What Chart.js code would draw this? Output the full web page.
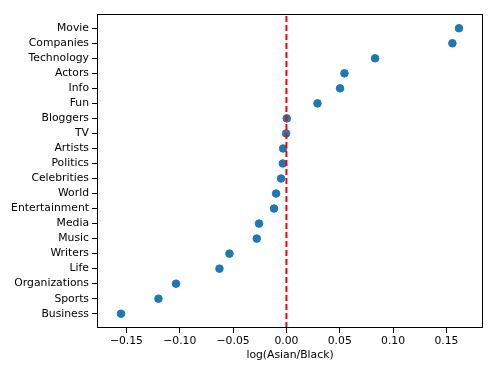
<!DOCTYPE html>
<html>
<head>
<meta charset="utf-8">
<script src="https://cdn.jsdelivr.net/npm/chart.js@4"></script>
<style>
  html, body { margin: 0; padding: 0; background: #fff; }
  #wrap { width: 498px; height: 374px; }
</style>
</head>
<body>
<div id="wrap"><canvas id="chart" width="498" height="374"></canvas></div>
<script>
// categories listed bottom to top
const categories = ['Business', 'Sports', 'Organizations', 'Life', 'Writers', 'Music', 'Media',
  'Entertainment', 'World', 'Celebrities', 'Politics', 'Artists', 'TV', 'Bloggers', 'Fun',
  'Info', 'Actors', 'Technology', 'Companies', 'Movie'];
const logRatio = [-0.1551, -0.1200, -0.1035, -0.0628, -0.0534, -0.0278, -0.0257,
  -0.0116, -0.0097, -0.0050, -0.0034, -0.0031, -0.0003, 0.0003, 0.0291,
  0.0503, 0.0544, 0.0831, 0.1556, 0.1618];
const xTicks = [-0.15, -0.10, -0.05, 0.00, 0.05, 0.10, 0.15];

const font = { family: 'DejaVu Sans', size: 10.8 };

const framePlugin = {
  id: 'frame',
  afterDraw(chart) {
    const a = chart.chartArea, ctx = chart.ctx;
    ctx.save();
    ctx.strokeStyle = '#000';
    ctx.lineWidth = 1;
    ctx.strokeRect(a.left + 0.5, a.top + 0.5, a.right - a.left - 1, a.bottom - a.top - 1);
    ctx.restore();
  }
};

new Chart(document.getElementById('chart'), {
  type: 'scatter',
  data: {
    datasets: [
      {
        // zero reference line
        type: 'line',
        data: [{ x: 0, y: -0.95 }, { x: 0, y: categories.length - 1 + 0.95 }],
        borderColor: '#ff0000',
        borderWidth: 2,
        borderDash: [6, 3],
        pointRadius: 0
      },
      {
        data: categories.map((c, i) => ({ x: logRatio[i], y: i })),
        backgroundColor: '#1f77b4',
        borderColor: '#1f77b4',
        pointRadius: 3.8,
        pointHoverRadius: 3.8
      }
    ]
  },
  options: {
    responsive: false,
    animation: false,
    layout: { padding: { top: 14, right: 15, left: 0, bottom: 12 } },
    plugins: { legend: { display: false }, tooltip: { enabled: false } },
    scales: {
      x: {
        type: 'linear',
        min: -0.1776,
        max: 0.1843,
        afterBuildTicks(axis) { axis.ticks = xTicks.map(v => ({ value: v })); },
        afterFit(axis) { axis.height = 34; },
        ticks: {
          color: '#000',
          font: font,
          padding: 2,
          maxRotation: 0,
          callback: v => v.toFixed(2).replace('-', '\u2212')
        },
        grid: { drawOnChartArea: false, drawTicks: true, tickLength: 5, color: '#000' },
        border: { display: false },
        title: { display: true, text: 'log(Asian/Black)', color: '#000', font: font, padding: 0 }
      },
      y: {
        type: 'linear',
        min: -0.95,
        max: categories.length - 1 + 0.95,
        afterBuildTicks(axis) { axis.ticks = categories.map((c, i) => ({ value: i })); },
        afterFit(axis) { axis.width = 97; },
        ticks: {
          color: '#000',
          font: font,
          padding: 3,
          callback: v => categories[v]
        },
        grid: { drawOnChartArea: false, drawTicks: true, tickLength: 5, color: '#000' },
        border: { display: false }
      }
    }
  },
  plugins: [framePlugin]
});
</script>
</body>
</html>
